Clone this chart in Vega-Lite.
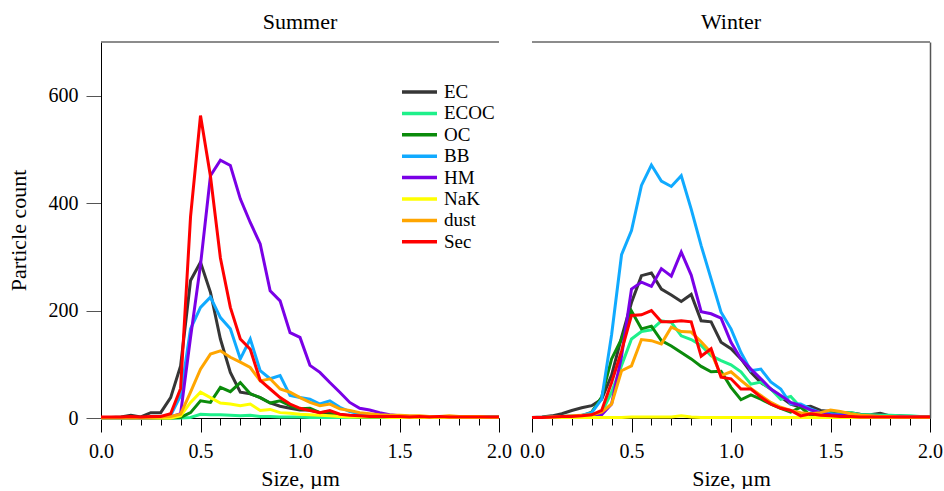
{
  "$schema": "https://vega.github.io/schema/vega-lite/v6.json",
  "padding": {"left": 7, "top": 11, "right": 5, "bottom": 0},
  "config": {
    "font": "Liberation Serif, Times New Roman, serif",
    "view": {"stroke": null},
    "axis": {"grid": false, "labelFont": "Liberation Serif, Times New Roman, serif", "titleFont": "Liberation Serif, Times New Roman, serif", "labelFontSize": 20, "titleFontSize": 22, "titleFontWeight": "normal", "labelColor": "#000", "titleColor": "#000"},
    "title": {"font": "Liberation Serif, Times New Roman, serif", "fontSize": 22, "fontWeight": "normal", "color": "#000"},
    "legend": {"labelFont": "Liberation Serif, Times New Roman, serif"}
  },
  "datasets": {
    "d": [
      {"season":"Summer","size":0.00,"EC":1,"ECOC":0,"OC":0,"BB":0,"HM":0,"NaK":0,"dust":1,"Sec":2},
      {"season":"Summer","size":0.05,"EC":1,"ECOC":0,"OC":0,"BB":0,"HM":0,"NaK":0,"dust":1,"Sec":2},
      {"season":"Summer","size":0.10,"EC":2,"ECOC":0,"OC":0,"BB":0,"HM":0,"NaK":0,"dust":1,"Sec":2},
      {"season":"Summer","size":0.15,"EC":5,"ECOC":0,"OC":0,"BB":1,"HM":0,"NaK":0,"dust":1,"Sec":3},
      {"season":"Summer","size":0.20,"EC":2,"ECOC":0,"OC":0,"BB":0,"HM":0,"NaK":0,"dust":1,"Sec":2},
      {"season":"Summer","size":0.25,"EC":10,"ECOC":0,"OC":0,"BB":1,"HM":0,"NaK":0,"dust":1,"Sec":3},
      {"season":"Summer","size":0.30,"EC":10,"ECOC":0,"OC":0,"BB":2,"HM":1,"NaK":0,"dust":2,"Sec":3},
      {"season":"Summer","size":0.35,"EC":38,"ECOC":0,"OC":0,"BB":5,"HM":2,"NaK":0,"dust":3,"Sec":8},
      {"season":"Summer","size":0.40,"EC":97,"ECOC":0,"OC":1,"BB":42,"HM":8,"NaK":4,"dust":7,"Sec":55},
      {"season":"Summer","size":0.45,"EC":256,"ECOC":1,"OC":10,"BB":166,"HM":150,"NaK":29,"dust":48,"Sec":375},
      {"season":"Summer","size":0.50,"EC":290,"ECOC":7,"OC":32,"BB":206,"HM":285,"NaK":48,"dust":91,"Sec":563},
      {"season":"Summer","size":0.55,"EC":234,"ECOC":6,"OC":29,"BB":225,"HM":451,"NaK":38,"dust":119,"Sec":450},
      {"season":"Summer","size":0.60,"EC":147,"ECOC":6,"OC":57,"BB":187,"HM":480,"NaK":28,"dust":125,"Sec":298},
      {"season":"Summer","size":0.65,"EC":85,"ECOC":5,"OC":49,"BB":166,"HM":470,"NaK":26,"dust":113,"Sec":206},
      {"season":"Summer","size":0.70,"EC":48,"ECOC":4,"OC":66,"BB":110,"HM":408,"NaK":23,"dust":104,"Sec":147},
      {"season":"Summer","size":0.75,"EC":45,"ECOC":5,"OC":45,"BB":147,"HM":364,"NaK":26,"dust":94,"Sec":128},
      {"season":"Summer","size":0.80,"EC":38,"ECOC":3,"OC":38,"BB":88,"HM":324,"NaK":14,"dust":69,"Sec":70},
      {"season":"Summer","size":0.85,"EC":28,"ECOC":3,"OC":28,"BB":73,"HM":237,"NaK":16,"dust":73,"Sec":54},
      {"season":"Summer","size":0.90,"EC":22,"ECOC":2,"OC":32,"BB":79,"HM":218,"NaK":10,"dust":54,"Sec":38},
      {"season":"Summer","size":0.95,"EC":18,"ECOC":2,"OC":23,"BB":42,"HM":159,"NaK":9,"dust":48,"Sec":26},
      {"season":"Summer","size":1.00,"EC":15,"ECOC":2,"OC":17,"BB":38,"HM":150,"NaK":7,"dust":38,"Sec":18},
      {"season":"Summer","size":1.05,"EC":15,"ECOC":1,"OC":18,"BB":35,"HM":98,"NaK":6,"dust":29,"Sec":14},
      {"season":"Summer","size":1.10,"EC":10,"ECOC":1,"OC":10,"BB":26,"HM":85,"NaK":5,"dust":23,"Sec":10},
      {"season":"Summer","size":1.15,"EC":8,"ECOC":1,"OC":12,"BB":32,"HM":66,"NaK":4,"dust":26,"Sec":14},
      {"season":"Summer","size":1.20,"EC":6,"ECOC":1,"OC":4,"BB":20,"HM":48,"NaK":3,"dust":17,"Sec":7},
      {"season":"Summer","size":1.25,"EC":4,"ECOC":1,"OC":3,"BB":12,"HM":29,"NaK":2,"dust":14,"Sec":5},
      {"season":"Summer","size":1.30,"EC":4,"ECOC":1,"OC":2,"BB":8,"HM":18,"NaK":2,"dust":10,"Sec":4},
      {"season":"Summer","size":1.35,"EC":3,"ECOC":1,"OC":2,"BB":6,"HM":15,"NaK":2,"dust":8,"Sec":3},
      {"season":"Summer","size":1.40,"EC":3,"ECOC":1,"OC":2,"BB":5,"HM":10,"NaK":2,"dust":6,"Sec":3},
      {"season":"Summer","size":1.45,"EC":3,"ECOC":1,"OC":2,"BB":4,"HM":6,"NaK":1,"dust":5,"Sec":3},
      {"season":"Summer","size":1.50,"EC":2,"ECOC":1,"OC":2,"BB":4,"HM":4,"NaK":1,"dust":5,"Sec":3},
      {"season":"Summer","size":1.55,"EC":2,"ECOC":1,"OC":1,"BB":3,"HM":3,"NaK":1,"dust":4,"Sec":2},
      {"season":"Summer","size":1.60,"EC":2,"ECOC":1,"OC":1,"BB":3,"HM":3,"NaK":1,"dust":4,"Sec":3},
      {"season":"Summer","size":1.65,"EC":2,"ECOC":1,"OC":1,"BB":3,"HM":2,"NaK":1,"dust":3,"Sec":2},
      {"season":"Summer","size":1.70,"EC":2,"ECOC":1,"OC":1,"BB":2,"HM":2,"NaK":1,"dust":3,"Sec":3},
      {"season":"Summer","size":1.75,"EC":2,"ECOC":1,"OC":1,"BB":2,"HM":2,"NaK":1,"dust":4,"Sec":2},
      {"season":"Summer","size":1.80,"EC":2,"ECOC":1,"OC":1,"BB":2,"HM":2,"NaK":1,"dust":3,"Sec":2},
      {"season":"Summer","size":1.85,"EC":2,"ECOC":1,"OC":1,"BB":2,"HM":2,"NaK":1,"dust":3,"Sec":2},
      {"season":"Summer","size":1.90,"EC":2,"ECOC":1,"OC":1,"BB":2,"HM":1,"NaK":1,"dust":3,"Sec":2},
      {"season":"Summer","size":1.95,"EC":2,"ECOC":1,"OC":1,"BB":2,"HM":1,"NaK":1,"dust":2,"Sec":2},
      {"season":"Summer","size":2.00,"EC":2,"ECOC":1,"OC":1,"BB":2,"HM":1,"NaK":1,"dust":2,"Sec":2},
      {"season":"Winter","size":0.00,"EC":1,"ECOC":1,"OC":1,"BB":1,"HM":1,"NaK":1,"dust":1,"Sec":1},
      {"season":"Winter","size":0.05,"EC":2,"ECOC":1,"OC":1,"BB":1,"HM":1,"NaK":1,"dust":1,"Sec":1},
      {"season":"Winter","size":0.10,"EC":4,"ECOC":2,"OC":1,"BB":2,"HM":1,"NaK":1,"dust":2,"Sec":2},
      {"season":"Winter","size":0.15,"EC":8,"ECOC":3,"OC":2,"BB":3,"HM":2,"NaK":1,"dust":3,"Sec":3},
      {"season":"Winter","size":0.20,"EC":14,"ECOC":3,"OC":2,"BB":4,"HM":2,"NaK":1,"dust":4,"Sec":3},
      {"season":"Winter","size":0.25,"EC":19,"ECOC":4,"OC":4,"BB":5,"HM":3,"NaK":1,"dust":5,"Sec":4},
      {"season":"Winter","size":0.30,"EC":23,"ECOC":6,"OC":11,"BB":10,"HM":4,"NaK":1,"dust":6,"Sec":6},
      {"season":"Winter","size":0.35,"EC":35,"ECOC":10,"OC":39,"BB":35,"HM":6,"NaK":1,"dust":11,"Sec":14},
      {"season":"Winter","size":0.40,"EC":80,"ECOC":48,"OC":110,"BB":155,"HM":26,"NaK":1,"dust":26,"Sec":66},
      {"season":"Winter","size":0.45,"EC":150,"ECOC":98,"OC":147,"BB":304,"HM":115,"NaK":1,"dust":88,"Sec":125},
      {"season":"Winter","size":0.50,"EC":215,"ECOC":147,"OC":199,"BB":349,"HM":240,"NaK":2,"dust":97,"Sec":191},
      {"season":"Winter","size":0.55,"EC":265,"ECOC":161,"OC":166,"BB":433,"HM":253,"NaK":2,"dust":146,"Sec":192},
      {"season":"Winter","size":0.60,"EC":270,"ECOC":164,"OC":171,"BB":471,"HM":245,"NaK":2,"dust":144,"Sec":200},
      {"season":"Winter","size":0.65,"EC":240,"ECOC":181,"OC":144,"BB":441,"HM":278,"NaK":2,"dust":138,"Sec":179},
      {"season":"Winter","size":0.70,"EC":229,"ECOC":178,"OC":134,"BB":431,"HM":264,"NaK":2,"dust":169,"Sec":179},
      {"season":"Winter","size":0.75,"EC":217,"ECOC":153,"OC":122,"BB":451,"HM":309,"NaK":4,"dust":161,"Sec":181},
      {"season":"Winter","size":0.80,"EC":230,"ECOC":146,"OC":110,"BB":389,"HM":266,"NaK":2,"dust":160,"Sec":179},
      {"season":"Winter","size":0.85,"EC":181,"ECOC":135,"OC":96,"BB":321,"HM":198,"NaK":1,"dust":142,"Sec":115},
      {"season":"Winter","size":0.90,"EC":179,"ECOC":116,"OC":86,"BB":259,"HM":194,"NaK":1,"dust":122,"Sec":129},
      {"season":"Winter","size":0.95,"EC":141,"ECOC":107,"OC":87,"BB":197,"HM":186,"NaK":1,"dust":79,"Sec":76},
      {"season":"Winter","size":1.00,"EC":129,"ECOC":99,"OC":57,"BB":166,"HM":141,"NaK":1,"dust":86,"Sec":73},
      {"season":"Winter","size":1.05,"EC":110,"ECOC":86,"OC":34,"BB":122,"HM":110,"NaK":1,"dust":70,"Sec":54},
      {"season":"Winter","size":1.10,"EC":85,"ECOC":63,"OC":43,"BB":88,"HM":91,"NaK":1,"dust":55,"Sec":54},
      {"season":"Winter","size":1.15,"EC":66,"ECOC":67,"OC":35,"BB":91,"HM":73,"NaK":1,"dust":42,"Sec":39},
      {"season":"Winter","size":1.20,"EC":54,"ECOC":54,"OC":26,"BB":67,"HM":54,"NaK":1,"dust":29,"Sec":26},
      {"season":"Winter","size":1.25,"EC":39,"ECOC":35,"OC":18,"BB":54,"HM":42,"NaK":1,"dust":20,"Sec":18},
      {"season":"Winter","size":1.30,"EC":26,"ECOC":40,"OC":11,"BB":26,"HM":29,"NaK":1,"dust":14,"Sec":14},
      {"season":"Winter","size":1.35,"EC":20,"ECOC":20,"OC":20,"BB":26,"HM":23,"NaK":1,"dust":10,"Sec":4},
      {"season":"Winter","size":1.40,"EC":22,"ECOC":15,"OC":5,"BB":17,"HM":15,"NaK":1,"dust":8,"Sec":8},
      {"season":"Winter","size":1.45,"EC":14,"ECOC":10,"OC":10,"BB":10,"HM":10,"NaK":1,"dust":10,"Sec":5},
      {"season":"Winter","size":1.50,"EC":12,"ECOC":12,"OC":10,"BB":8,"HM":6,"NaK":1,"dust":15,"Sec":4},
      {"season":"Winter","size":1.55,"EC":10,"ECOC":8,"OC":6,"BB":6,"HM":5,"NaK":1,"dust":12,"Sec":3},
      {"season":"Winter","size":1.60,"EC":10,"ECOC":10,"OC":8,"BB":5,"HM":4,"NaK":1,"dust":8,"Sec":3},
      {"season":"Winter","size":1.65,"EC":7,"ECOC":6,"OC":4,"BB":4,"HM":3,"NaK":1,"dust":5,"Sec":2},
      {"season":"Winter","size":1.70,"EC":6,"ECOC":6,"OC":4,"BB":4,"HM":3,"NaK":1,"dust":4,"Sec":2},
      {"season":"Winter","size":1.75,"EC":9,"ECOC":5,"OC":3,"BB":3,"HM":3,"NaK":1,"dust":3,"Sec":2},
      {"season":"Winter","size":1.80,"EC":4,"ECOC":5,"OC":3,"BB":3,"HM":2,"NaK":1,"dust":3,"Sec":2},
      {"season":"Winter","size":1.85,"EC":4,"ECOC":4,"OC":3,"BB":3,"HM":2,"NaK":1,"dust":2,"Sec":2},
      {"season":"Winter","size":1.90,"EC":3,"ECOC":4,"OC":3,"BB":3,"HM":2,"NaK":1,"dust":2,"Sec":2},
      {"season":"Winter","size":1.95,"EC":3,"ECOC":3,"OC":2,"BB":2,"HM":2,"NaK":1,"dust":2,"Sec":2},
      {"season":"Winter","size":2.00,"EC":2,"ECOC":3,"OC":2,"BB":2,"HM":2,"NaK":1,"dust":2,"Sec":2}
    ]
  },
  "spacing": 33,
  "bounds": "flush",
  "hconcat": [
    {
      "width": 398,
      "height": 376,
      "title": {"text": "Summer", "offset": 7},
      "layer": [
        {
          "data": {"values": [{}]},
          "mark": {"type": "rule", "color": "#666666", "strokeWidth": 1.5},
          "encoding": {"y": {"datum": 700, "type": "quantitative", "scale": {"domain": [0, 700], "nice": false}}}
        },
        {
          "data": {"name": "d"},
          "transform": [
            {"filter": "datum.season == 'Summer'"},
            {"fold": ["EC", "ECOC", "OC", "BB", "HM", "NaK", "dust", "Sec"], "as": ["type", "count"]}
          ],
          "mark": {"type": "line", "strokeWidth": 3},
          "encoding": {
            "x": {
              "field": "size", "type": "quantitative",
              "scale": {"domain": [0, 2], "nice": false},
              "axis": {
                "title": "Size, µm", "titlePadding": 7,
                "values": [0, 0.1, 0.2, 0.3, 0.4, 0.5, 0.6, 0.7, 0.8, 0.9, 1.0, 1.1, 1.2, 1.3, 1.4, 1.5, 1.6, 1.7, 1.8, 1.9, 2.0],
                "labelExpr": "abs(datum.value*2 - round(datum.value*2)) < 0.001 ? format(datum.value, '.1f') : ''",
                "tickSize": {"condition": {"test": "abs(datum.value*2 - round(datum.value*2)) < 0.001", "value": 14}, "value": 7},
                "tickColor": "#000", "domainColor": "#000", "labelPadding": 9, "labelFlush": false, "labelOverlap": false
              }
            },
            "y": {
              "field": "count", "type": "quantitative",
              "scale": {"domain": [0, 700], "nice": false},
              "axis": {"title": "Particle count", "values": [0, 200, 400, 600], "tickSize": 15, "tickColor": "#555555", "domainColor": "#000", "labelPadding": 8, "titlePadding": 18}
            },
            "color": {
              "field": "type", "type": "nominal",
              "scale": {
                "domain": ["EC", "ECOC", "OC", "BB", "HM", "NaK", "dust", "Sec"],
                "range": ["#363636", "#1ef08a", "#0b8b0b", "#10aaff", "#7a00e6", "#ffff00", "#ffa500", "#ff0000"]
              },
              "legend": {
                "orient": "none", "legendX": 299, "legendY": 40, "title": null,
                "symbolType": "stroke", "symbolSize": 1225, "symbolStrokeWidth": 3.5,
                "labelFontSize": 19, "labelColor": "#000",
                "clipHeight": 20, "rowPadding": 1.4, "labelOffset": 5
              }
            }
          }
        }
      ]
    },
    {
      "width": 398,
      "height": 376,
      "title": {"text": "Winter", "offset": 7},
      "layer": [
        {
          "data": {"values": [{}]},
          "mark": {"type": "rule", "color": "#666666", "strokeWidth": 1.5},
          "encoding": {"y": {"datum": 700, "type": "quantitative", "scale": {"domain": [0, 700], "nice": false}}}
        },
        {
          "data": {"name": "d"},
          "transform": [
            {"filter": "datum.season == 'Winter'"},
            {"fold": ["EC", "ECOC", "OC", "BB", "HM", "NaK", "dust", "Sec"], "as": ["type", "count"]}
          ],
          "mark": {"type": "line", "strokeWidth": 3},
          "encoding": {
            "x": {
              "field": "size", "type": "quantitative",
              "scale": {"domain": [0, 2], "nice": false},
              "axis": {
                "title": "Size, µm", "titlePadding": 7,
                "values": [0, 0.1, 0.2, 0.3, 0.4, 0.5, 0.6, 0.7, 0.8, 0.9, 1.0, 1.1, 1.2, 1.3, 1.4, 1.5, 1.6, 1.7, 1.8, 1.9, 2.0],
                "labelExpr": "abs(datum.value*2 - round(datum.value*2)) < 0.001 ? format(datum.value, '.1f') : ''",
                "tickSize": {"condition": {"test": "abs(datum.value*2 - round(datum.value*2)) < 0.001", "value": 14}, "value": 7},
                "tickColor": "#000", "domainColor": "#000", "labelPadding": 9, "labelFlush": false, "labelOverlap": false
              }
            },
            "y": {
              "field": "count", "type": "quantitative",
              "scale": {"domain": [0, 700], "nice": false},
              "axis": {"orient": "right", "labels": false, "ticks": false, "title": null, "domainColor": "#555555", "domainWidth": 1.5}
            },
            "color": {
              "field": "type", "type": "nominal",
              "scale": {
                "domain": ["EC", "ECOC", "OC", "BB", "HM", "NaK", "dust", "Sec"],
                "range": ["#363636", "#1ef08a", "#0b8b0b", "#10aaff", "#7a00e6", "#ffff00", "#ffa500", "#ff0000"]
              }
            }
          }
        }
      ]
    }
  ]
}
